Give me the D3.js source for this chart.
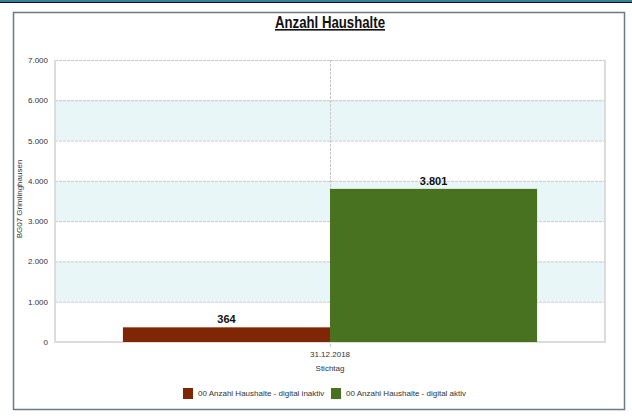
<!DOCTYPE html>
<html>
<head>
<meta charset="utf-8">
<script src="https://cdn.jsdelivr.net/npm/d3@7"></script>
<style>
  body { margin: 0; background: #fff; }
  svg { display: block; }
</style>
</head>
<body>
<svg id="chart" width="632" height="416"></svg>
<script>
var categories = ["31.12.2018"];
var seriesNames = ["00 Anzahl Haushalte - digital inaktiv", "00 Anzahl Haushalte - digital aktiv"];
var seriesValues = [[364], [3801]];
var seriesColors = ["#7f2704", "#48721f"];
var yTicks = [0, 1000, 2000, 3000, 4000, 5000, 6000, 7000];

var fmt = function(v) { return d3.format(",")(v).replace(/,/g, "."); };
var smallFont = "'Liberation Sans', Arial, sans-serif";

var svg = d3.select("#chart");
var margin = { top: 60, right: 27, bottom: 74, left: 55 },
  width = 632 - margin.left - margin.right,
  height = 416 - margin.top - margin.bottom;

// top bar
svg.append("rect").attr("x", 0).attr("y", 0).attr("width", 632).attr("height", 2).attr("fill", "#3a7f98");
svg.append("rect").attr("x", 0).attr("y", 2).attr("width", 632).attr("height", 1).attr("fill", "#111");

// frame
svg.append("rect")
  .attr("x", 13.5).attr("y", 12.5).attr("width", 611).attr("height", 397)
  .attr("fill", "none").attr("stroke", "#6b7b85").attr("stroke-width", 1.5);

// title
svg.append("text")
  .attr("x", 330).attr("y", 28)
  .attr("text-anchor", "middle")
  .attr("font-family", "'Liberation Sans', Arial, sans-serif")
  .attr("font-weight", "bold")
  .attr("font-size", 16)
  .attr("text-decoration", "underline")
  .attr("textLength", 110)
  .attr("lengthAdjust", "spacingAndGlyphs")
  .attr("fill", "#111")
  .text("Anzahl Haushalte");

var g = svg.append("g").attr("transform", "translate(" + margin.left + "," + margin.top + ")");

var y = d3.scaleLinear().domain([0, 7000]).range([height, 0]);
var x0 = d3.scaleBand().domain(categories).range([0, width]).paddingInner(0).paddingOuter(0.164);
var x1 = d3.scaleBand().domain(seriesNames).range([0, x0.bandwidth()]);

// alternating bands
for (var i = 1; i < yTicks.length - 1; i += 2) {
  g.append("rect")
    .attr("x", 0).attr("y", y(yTicks[i + 1]))
    .attr("width", width).attr("height", y(yTicks[i]) - y(yTicks[i + 1]))
    .attr("fill", "#e8f6f8");
}

// horizontal gridlines
g.append("g")
  .selectAll("line")
  .data(yTicks.slice(1))
  .enter()
  .append("line")
  .attr("x1", 0).attr("x2", width)
  .attr("y1", function(d) { return y(d) + 0.5; })
  .attr("y2", function(d) { return y(d) + 0.5; })
  .attr("stroke", "#c8c8c8")
  .attr("stroke-dasharray", "3,1");

// vertical gridline at category
g.append("line")
  .attr("x1", x0(categories[0]) + x0.bandwidth() / 2 + 0.5)
  .attr("x2", x0(categories[0]) + x0.bandwidth() / 2 + 0.5)
  .attr("y1", 0).attr("y2", height + 6)
  .attr("stroke", "#c8c8c8")
  .attr("stroke-dasharray", "3,1");

// plot border (left, bottom, right)
g.append("path")
  .attr("d", "M0,0V" + height + "H" + width + "V0")
  .attr("fill", "none")
  .attr("stroke", "#dcdcdc")
  .attr("stroke-width", 2);

// bars
seriesNames.forEach(function(name, si) {
  var bars = g.append("g").attr("fill", seriesColors[si]);
  bars.selectAll("rect")
    .data(seriesValues[si])
    .enter()
    .append("rect")
    .attr("x", function(d, ci) { return x0(categories[ci]) + x1(name); })
    .attr("y", function(d) { return y(d); })
    .attr("width", x1.bandwidth())
    .attr("height", function(d) { return height - y(d); });

  g.append("g")
    .selectAll("text")
    .data(seriesValues[si])
    .enter()
    .append("text")
    .attr("x", function(d, ci) { return x0(categories[ci]) + x1(name) + x1.bandwidth() / 2; })
    .attr("y", function(d) { return y(d) - 4; })
    .attr("text-anchor", "middle")
    .attr("font-family", "'Liberation Sans', Arial, sans-serif")
    .attr("font-weight", "bold")
    .attr("font-size", 11)
    .attr("fill", "#111")
    .text(function(d) { return fmt(d); });
});

// y axis labels
var yAxis = g.append("g")
  .call(d3.axisLeft(y).tickValues(yTicks).tickSize(0).tickPadding(7).tickFormat(fmt));
yAxis.select(".domain").remove();
yAxis.selectAll("text")
  .attr("font-family", smallFont)
  .attr("font-size", 8)
  .attr("fill", "#333");

// x axis labels
var xAxis = g.append("g")
  .attr("transform", "translate(0," + height + ")")
  .call(d3.axisBottom(x0).tickSize(0).tickPadding(9));
xAxis.select(".domain").remove();
xAxis.selectAll("text")
  .attr("font-family", smallFont)
  .attr("font-size", 8)
  .attr("fill", "#333");

g.append("text")
  .attr("x", x0(categories[0]) + x0.bandwidth() / 2)
  .attr("y", height + 29)
  .attr("text-anchor", "middle")
  .attr("font-family", smallFont)
  .attr("font-size", 8)
  .attr("fill", "#333")
  .text("Stichtag");

// y axis title
svg.append("text")
  .attr("transform", "translate(22," + (margin.top + height / 2 - 2) + ") rotate(-90)")
  .attr("text-anchor", "middle")
  .attr("font-family", smallFont)
  .attr("font-size", 8)
  .attr("fill", "#333")
  .text("BG07 Grimlinghausen");

// legend
var legendX = [183, 331];
var legend = svg.append("g")
  .selectAll("g")
  .data(seriesNames)
  .enter()
  .append("g")
  .attr("transform", function(d, i) { return "translate(" + legendX[i] + ",388)"; });
legend.append("rect")
  .attr("width", 10).attr("height", 11)
  .attr("fill", function(d, i) { return seriesColors[i]; });
legend.append("text")
  .attr("x", 15).attr("y", 5.5)
  .attr("dy", "0.35em")
  .attr("font-family", smallFont)
  .attr("font-size", 8)
  .attr("fill", "#333")
  .text(function(d) { return d; });
</script>
</body>
</html>
